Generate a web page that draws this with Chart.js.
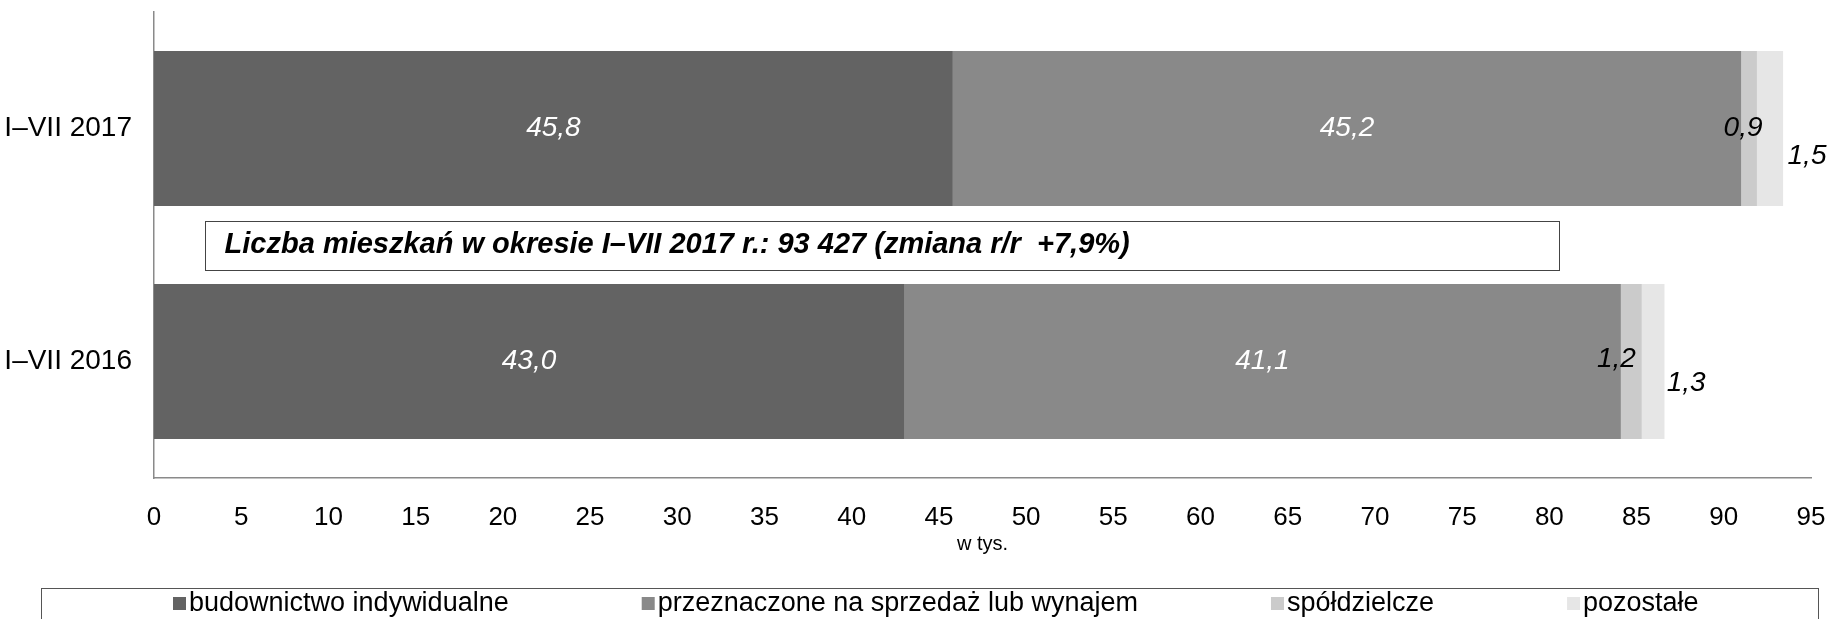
<!DOCTYPE html>
<html lang="pl">
<head>
<meta charset="utf-8">
<title>Mieszkania oddane do użytkowania</title>
<script src="https://cdn.jsdelivr.net/npm/chart.js@4.4.1/dist/chart.umd.min.js"></script>
<style>
  html, body { margin: 0; padding: 0; background: #fff; }
</style>
</head>
<body>
<canvas id="flatsChart" width="1833" height="619"></canvas>
<script>
// Periods and dwelling counts (thousands) by type of construction
const periods = ["I–VII 2017", "I–VII 2016"];
const seriesNames = [
  "budownictwo indywidualne",
  "przeznaczone na sprzedaż lub wynajem",
  "spółdzielcze",
  "pozostałe",
];
const individual = [45.8, 43.0];
const forSale = [45.2, 41.1];
const cooperative = [0.9, 1.2];
const other = [1.5, 1.3];
const xTicks = [0, 5, 10, 15, 20, 25, 30, 35, 40, 45, 50, 55, 60, 65, 70, 75, 80, 85, 90, 95];
const noteText = "Liczba mieszkań w okresie I–VII 2017 r.: 93 427 (zmiana r/r  +7,9%)";

const colors = ["#636363", "#898989", "#cbcbcb", "#e6e6e6"];
const labelColors = ["#ffffff", "#ffffff", "#000000", "#000000"];
// nudges for the small-segment labels, [dx, dy] per period
const labelShift = [
  [[0, 0], [0, 0]],
  [[0, 0], [0, 0]],
  [[-6, 0], [-15, -2]],
  [[37, 28], [33, 22]],
];
const FONT = "'Liberation Sans', Arial, sans-serif";

Chart.defaults.font.family = FONT;
Chart.defaults.color = "#000";

const fmt = (v) => v.toFixed(1).replace(".", ",");

// value labels inside / next to the segments
const valueLabels = {
  id: "valueLabels",
  afterDatasetsDraw(chart) {
    const ctx = chart.ctx;
    ctx.save();
    ctx.font = "italic 28px " + FONT;
    ctx.textAlign = "center";
    ctx.textBaseline = "middle";
    chart.data.datasets.forEach((ds, di) => {
      chart.getDatasetMeta(di).data.forEach((bar, i) => {
        const [dx, dy] = labelShift[di][i];
        ctx.fillStyle = labelColors[di];
        ctx.fillText(fmt(ds.data[i]), (bar.x + bar.base) / 2 + dx, bar.y + dy);
      });
    });
    ctx.restore();
  },
};

// framed note between the two bars
const noteBox = {
  id: "noteBox",
  afterDatasetsDraw(chart) {
    const { ctx, scales } = chart;
    const x0 = scales.x.getPixelForValue(2.9);
    const x1 = scales.x.getPixelForValue(80.55);
    const yc = scales.y.getPixelForValue(0.5);
    const h = 49;
    ctx.save();
    ctx.fillStyle = "#fff";
    ctx.fillRect(x0, yc - h / 2, x1 - x0, h);
    ctx.strokeStyle = "#444";
    ctx.lineWidth = 1;
    ctx.strokeRect(Math.round(x0) + 0.5, Math.round(yc - h / 2) + 0.5, Math.round(x1 - x0), h);
    ctx.font = "italic bold 29px " + FONT;
    ctx.fillStyle = "#000";
    ctx.textBaseline = "middle";
    ctx.fillText(noteText, x0 + 20, yc);
    ctx.restore();
  },
};

// legend in a frame along the bottom edge
const framedLegend = {
  id: "framedLegend",
  afterDraw(chart) {
    const ctx = chart.ctx;
    const top = 588, left = 41, right = 1818;
    ctx.save();
    ctx.strokeStyle = "#555";
    ctx.lineWidth = 1;
    ctx.strokeRect(left + 0.5, top + 0.5, right - left, 60);
    ctx.font = "27px " + FONT;
    ctx.textBaseline = "middle";
    const yc = 604;
    let x = left + 132;
    chart.data.datasets.forEach((ds) => {
      ctx.fillStyle = ds.backgroundColor;
      ctx.fillRect(x, yc - 7, 13, 13);
      ctx.fillStyle = "#000";
      ctx.fillText(ds.label, x + 16, yc);
      x += 16 + ctx.measureText(ds.label).width + 133;
    });
    ctx.restore();
  },
};

const seriesValues = [individual, forSale, cooperative, other];

new Chart(document.getElementById("flatsChart").getContext("2d"), {
  type: "bar",
  data: {
    labels: periods,
    datasets: seriesValues.map((values, i) => ({
      label: seriesNames[i],
      data: values,
      backgroundColor: colors[i],
      borderWidth: 0,
      barPercentage: 0.665,
      categoryPercentage: 1,
    })),
  },
  options: {
    indexAxis: "y",
    responsive: false,
    animation: false,
    layout: { padding: { top: 12, right: 22, bottom: 31, left: 0 } },
    plugins: {
      legend: { display: false },
      tooltip: { enabled: false },
    },
    scales: {
      x: {
        stacked: true,
        min: 0,
        max: 95,
        afterBuildTicks: (scale) => {
          scale.ticks = xTicks.map((v) => ({ value: v }));
        },
        afterFit: (scale) => {
          scale.height = 110;
          scale.paddingLeft = 0;
          scale.paddingRight = 0;
        },
        grid: { display: false, drawTicks: false },
        border: { display: true, color: "#8a8a8a", width: 1.5 },
        ticks: { font: { size: 26 }, padding: 24, maxRotation: 0, autoSkip: false },
        title: {
          display: true,
          text: "w tys.",
          font: { size: 20 },
          padding: { top: 0, bottom: 32 },
        },
      },
      y: {
        stacked: true,
        afterFit: (scale) => {
          scale.width = 154;
          scale.paddingTop = 0;
          scale.paddingBottom = 0;
        },
        grid: { display: false, drawTicks: false },
        border: { display: true, color: "#8a8a8a", width: 1.5 },
        ticks: { font: { size: 28 }, padding: 22 },
      },
    },
  },
  plugins: [valueLabels, noteBox, framedLegend],
});
</script>
</body>
</html>
